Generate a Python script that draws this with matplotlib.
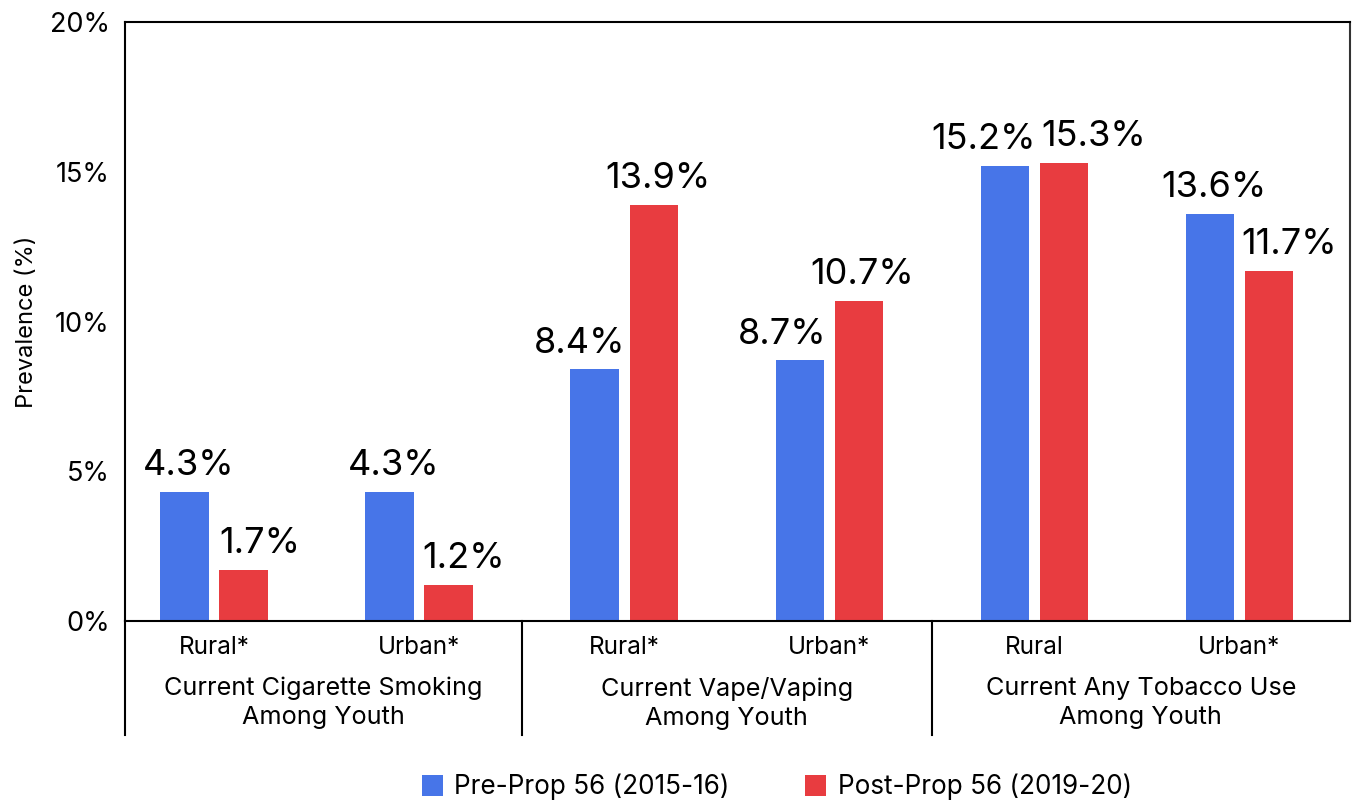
import numpy as np
import matplotlib.pyplot as plt
import matplotlib.transforms as mtransforms

plt.rcParams['font.family'] = ['Inter', 'DejaVu Sans']

# %% DATA
areas = ["Rural*", "Urban*", "Rural*", "Urban*", "Rural", "Urban*"]
groups = ["Current Cigarette Smoking\nAmong Youth",
          "Current Vape/Vaping\nAmong Youth",
          "Current Any Tobacco Use\nAmong Youth"]
pre_prop = [4.3, 4.3, 8.4, 8.7, 15.2, 13.6]
post_prop = [1.7, 1.2, 13.9, 10.7, 15.3, 11.7]
series_names = ["Pre-Prop 56 (2015-16)", "Post-Prop 56 (2019-20)"]
yticks = [0, 5, 10, 15, 20]

blue = "#4775E8"
red = "#E83C40"

# sideways nudges (in pixels) so neighbouring value labels don't collide
pre_nudge = [4, 4, -15, -17, -21, 4]
post_nudge = [16, 15, 4, 3, 30, 20]

# %% PLOT
dpi = 100
fig = plt.figure(figsize=(13.54, 8.01), dpi=dpi)
ax = fig.add_axes([125/1354, 1 - 621/801, (1350 - 125)/1354, (621 - 22)/801])

x = np.arange(len(areas))
w = 0.235
off = 0.144
b1 = ax.bar(x - off, pre_prop, w, color=blue, label=series_names[0])
b2 = ax.bar(x + off, post_prop, w, color=red, label=series_names[1])

px = 72 / dpi  # points per pixel
for bars, vals, nudge in ((b1, pre_prop, pre_nudge), (b2, post_prop, post_nudge)):
    for rect, v, dx in zip(bars, vals, nudge):
        ax.annotate(f"{v:.1f}%", (rect.get_x() + rect.get_width()/2, v),
                    xytext=(dx*px, 7), textcoords="offset points",
                    ha="center", va="bottom", fontsize=26)

xmin, xmax = -0.434, 5.54
ax.set_xlim(xmin, xmax)
ax.set_ylim(0, 20)
ax.set_yticks(yticks)
ax.set_yticklabels([f"{t}%" for t in yticks], fontsize=19.5)
ax.tick_params(axis="y", length=0, pad=11)
ax.set_xticks(x)
ax.set_xticklabels(areas, fontsize=17.5)
ax.tick_params(axis="x", length=0, pad=11)
ax.set_ylabel("Prevalence (%)", fontsize=17)
ax.yaxis.set_label_coords(-87/1225, 0.5)

for s in ax.spines.values():
    s.set_linewidth(1.5)
    s.set_color("black")
ax.spines["right"].set_color("#333333")

# group separators below the axis, group names centred between them
trans = mtransforms.blended_transform_factory(ax.transData, ax.transAxes)
bounds = [xmin, 1.5, 3.5, xmax]
for xs in bounds[:-1]:
    ax.plot([xs, xs], [0, -114/599], color="black", lw=1.5,
            transform=trans, clip_on=False)
for i, g in enumerate(groups):
    ax.text((bounds[i] + bounds[i + 1]) / 2, -56/599, g, transform=trans,
            ha="center", va="top", fontsize=18.2, linespacing=1.32)

fig.legend(loc="center", bbox_to_anchor=(777/1354, 14/801), ncol=2,
           frameon=False, fontsize=18.8, handlelength=0.8, handleheight=0.85,
           handletextpad=0.45, columnspacing=2.9)

fig.savefig("out.png", dpi=dpi)
